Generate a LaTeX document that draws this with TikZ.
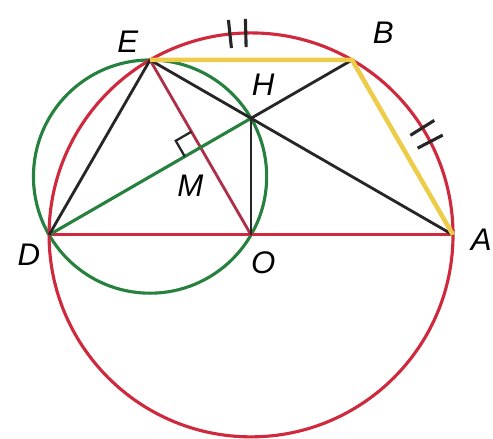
\documentclass[tikz,border=0pt]{standalone}
\usepackage{fontspec}
\setsansfont{Liberation Sans}
\usetikzlibrary{calc}
\definecolor{circred}{RGB}{208,40,60}
\definecolor{radred}{RGB}{172,48,72}
\definecolor{circgreen}{RGB}{38,128,62}
\definecolor{chordyellow}{RGB}{236,204,72}
\tikzset{
  lbl/.style={font=\sffamily\itshape\fontsize{11}{12}\selectfont, inner sep=1pt},
  redc/.style={draw=circred, line width=1.1pt},
  greenc/.style={draw=circgreen, line width=1.1pt},
  blk/.style={draw=black!85, line width=1pt},
  ylw/.style={draw=chordyellow, line width=1.6pt},
  tick/.style={draw=black!85, line width=1.1pt},
}
\begin{document}
\begin{tikzpicture}[x=2.5cm, y=2.5cm]
  \useasboundingbox (-1.243,-1.010) rectangle (1.198,1.163);
  % points
  \coordinate (O) at (0,0);
  \coordinate (A) at (0:1);
  \coordinate (B) at (60:1);
  \coordinate (E) at (120:1);
  \coordinate (D) at (180:1);
  \coordinate (H) at (0,0.57735);
  \coordinate (M) at (-0.25,0.43301);
  \coordinate (C) at (-0.5,0.28868);
  % circles
  \draw[greenc] (C) circle (0.57735);
  \draw[redc] (O) circle (1);
  % segments
  \draw[redc] (D) -- (A);
  \draw[draw=radred, line width=1pt] (E) -- (O);
  \draw[greenc] (D) -- (H);
  \draw[blk] (H) -- (B);
  \draw[blk] (D) -- (E);
  \draw[blk] (E) -- (A);
  \draw[blk] (H) -- (O);
  \draw[ylw] (E) -- (B) -- (A);
  % right angle at M
  \draw[tick, line width=0.8pt] ($(M)+(120:0.09)$) -- ++(210:0.09) -- ($(M)+(210:0.09)$);
  % equal arcs
  \foreach \a in {91.5,96}
    \draw[tick] (\a:0.93) -- (\a:1.07);
  \foreach \a in {27.5,32}
    \draw[tick] (\a:0.93) -- (\a:1.07);
  % labels
  \node[lbl] (lE) at (-0.61,0.955) {E};
  \node[lbl] (lB) at (0.655,1.0) {B};
  \node[lbl] (lH) at (0.06,0.745) {H};
  \node[lbl] (lM) at (-0.30,0.245) {M};
  \node[lbl] (lO) at (0.06,-0.14) {O};
  \node[lbl] (lD) at (-1.10,-0.10) {D};
  \node[lbl] (lA) at (1.14,-0.025) {A};
\end{tikzpicture}
\end{document}
